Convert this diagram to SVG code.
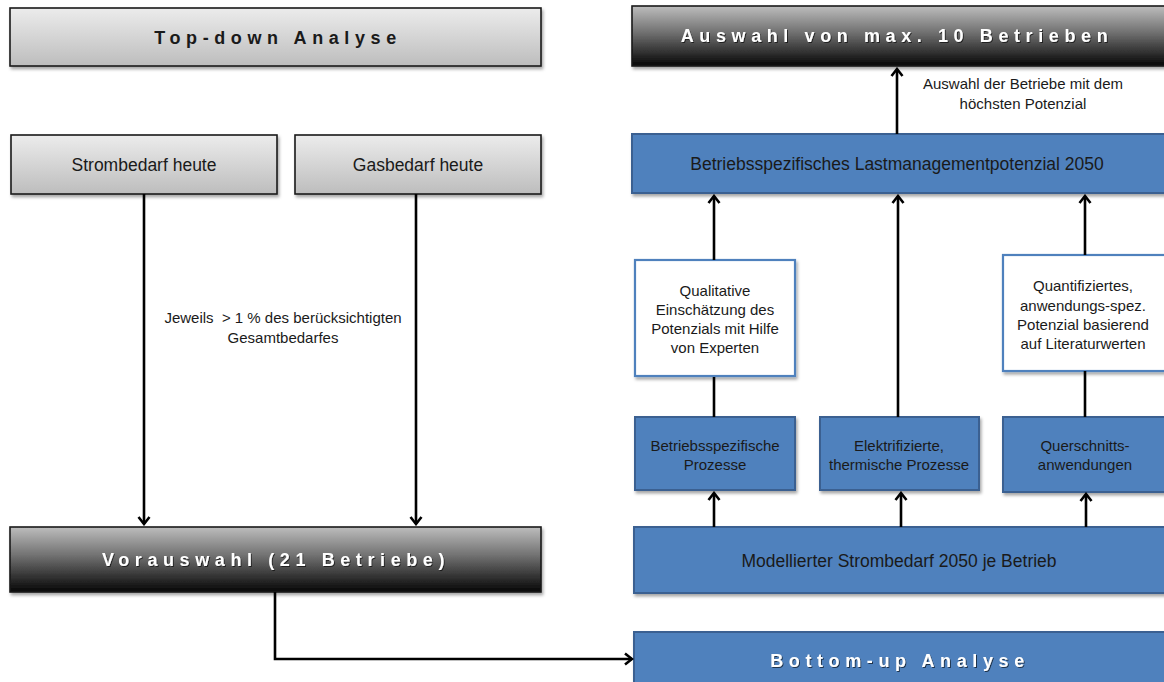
<svg xmlns="http://www.w3.org/2000/svg" width="1164" height="682" viewBox="0 0 1164 682">
  <defs>
    <linearGradient id="gLight" x1="0" y1="0" x2="0" y2="1">
      <stop offset="0" stop-color="#ececec"/>
      <stop offset="1" stop-color="#bdbdbd"/>
    </linearGradient>
    <linearGradient id="gDark" x1="0" y1="0" x2="0" y2="1">
      <stop offset="0" stop-color="#bdbdbd"/>
      <stop offset="0.45" stop-color="#6f6f6f"/>
      <stop offset="1" stop-color="#050505"/>
    </linearGradient>
    <filter id="shadow" x="-5%" y="-20%" width="110%" height="150%">
      <feDropShadow dx="1.5" dy="2.5" stdDeviation="1.5" flood-color="#000" flood-opacity="0.35"/>
    </filter>
    <filter id="tshadow" x="-5%" y="-30%" width="110%" height="160%">
      <feDropShadow dx="1" dy="1" stdDeviation="0.6" flood-color="#000" flood-opacity="0.6"/>
    </filter>
    <marker id="arrow" viewBox="-10 -8 12 16" refX="0" refY="0" markerWidth="12" markerHeight="16" markerUnits="userSpaceOnUse" orient="auto">
      <path d="M-7,-5.5 L0,0 L-7,5.5" fill="none" stroke="#000" stroke-width="2.6" stroke-linejoin="miter"/>
    </marker>
  </defs>
  <style>
    .grey { fill: url(#gLight); stroke: #1a1a1a; stroke-width: 1.6; filter: url(#shadow); }
    .dark { fill: url(#gDark); stroke: #1a1a1a; stroke-width: 1.6; filter: url(#shadow); }
    .blue { fill: #4f81bd; stroke: #3a6191; stroke-width: 2; filter: url(#shadow); }
    .white { fill: #ffffff; stroke: #4f81bd; stroke-width: 2.2; filter: url(#shadow); }
    .head { font-family: "Liberation Sans", Arial, sans-serif; font-weight: bold; font-size: 18px; letter-spacing: 5.6px; text-anchor: middle; }
    .headDark { fill: #1a1a1a; }
    .headLight { fill: #ffffff; filter: url(#tshadow); }
    .lbl { font-family: "Liberation Sans", Arial, sans-serif; font-size: 17.5px; fill: #1a1a1a; text-anchor: middle; }
    .sm { font-family: "Liberation Sans", Arial, sans-serif; font-size: 15px; fill: #1a1a1a; text-anchor: middle; }
    .conn { fill: none; stroke: #000; stroke-width: 2.6; }
  </style>

  <!-- left column: top-down -->
  <g id="topdown">
    <rect class="grey" x="10" y="8" width="531" height="58"/>
    <text class="head headDark" x="278" y="44">Top-down Analyse</text>
  </g>
  <g id="strom">
    <rect class="grey" x="11" y="135" width="266" height="59"/>
    <text class="lbl" x="144" y="170.5">Strombedarf heute</text>
  </g>
  <g id="gas">
    <rect class="grey" x="295" y="135" width="246" height="59"/>
    <text class="lbl" x="418" y="170.5">Gasbedarf heute</text>
  </g>
  <g id="vorauswahl">
    <rect class="dark" x="10" y="527" width="531" height="65"/>
    <text class="head headLight" x="276" y="566">Vorauswahl (21 Betriebe)</text>
  </g>

  <!-- right column: bottom-up -->
  <g id="auswahl">
    <rect class="dark" x="632" y="6" width="534" height="60"/>
    <text class="head headLight" x="897" y="42">Auswahl von max. 10 Betrieben</text>
  </g>
  <g id="lastmanagement">
    <rect class="blue" x="632" y="134" width="534" height="59"/>
    <text class="lbl" x="897" y="169.5">Betriebsspezifisches Lastmanagementpotenzial 2050</text>
  </g>
  <g id="qualitativ">
    <rect class="white" x="635" y="260" width="160" height="116"/>
    <text class="sm" x="715" y="296">Qualitative</text>
    <text class="sm" x="715" y="315">Einschätzung des</text>
    <text class="sm" x="715" y="334">Potenzials mit Hilfe</text>
    <text class="sm" x="715" y="353">von Experten</text>
  </g>
  <g id="quantitativ">
    <rect class="white" x="1003" y="255" width="163" height="116"/>
    <text class="sm" x="1083" y="291">Quantifiziertes,</text>
    <text class="sm" x="1083" y="311">anwendungs-spez.</text>
    <text class="sm" x="1083" y="330">Potenzial basierend</text>
    <text class="sm" x="1083" y="349">auf Literaturwerten</text>
  </g>
  <g id="prozesse">
    <rect class="blue" x="635" y="417" width="160" height="73"/>
    <text class="sm" x="715" y="451">Betriebsspezifische</text>
    <text class="sm" x="715" y="470">Prozesse</text>
  </g>
  <g id="thermisch">
    <rect class="blue" x="820" y="417" width="159" height="73"/>
    <text class="sm" x="899" y="451">Elektrifizierte,</text>
    <text class="sm" x="899" y="470">thermische Prozesse</text>
  </g>
  <g id="querschnitt">
    <rect class="blue" x="1003" y="417" width="163" height="75"/>
    <text class="sm" x="1085" y="451">Querschnitts-</text>
    <text class="sm" x="1085" y="470">anwendungen</text>
  </g>
  <g id="modell">
    <rect class="blue" x="634" y="527" width="532" height="66"/>
    <text class="lbl" x="899" y="567">Modellierter Strombedarf 2050 je Betrieb</text>
  </g>
  <g id="bottomup">
    <rect class="blue" x="634" y="632" width="532" height="60"/>
    <text class="head headLight" x="900" y="667">Bottom-up Analyse</text>
  </g>

  <!-- connectors -->
  <g id="connectors">
    <path class="conn" d="M144,194 V524" marker-end="url(#arrow)"/>
    <path class="conn" d="M416,194 V524" marker-end="url(#arrow)"/>
    <path class="conn" d="M275,592 V659 H632" marker-end="url(#arrow)"/>
    <path class="conn" d="M714,527 V493" marker-end="url(#arrow)"/>
    <path class="conn" d="M901,527 V493" marker-end="url(#arrow)"/>
    <path class="conn" d="M1086,527 V494" marker-end="url(#arrow)"/>
    <path class="conn" d="M714,417 V377"/>
    <path class="conn" d="M714,260 V196" marker-end="url(#arrow)"/>
    <path class="conn" d="M898,417 V196" marker-end="url(#arrow)"/>
    <path class="conn" d="M1085,417 V371"/>
    <path class="conn" d="M1085,255 V196" marker-end="url(#arrow)"/>
    <path class="conn" d="M897,134 V69" marker-end="url(#arrow)"/>
  </g>

  <!-- connector labels -->
  <g id="labels">
    <text class="sm" x="283" y="323">Jeweils&#160; &gt; 1 % des berücksichtigten</text>
    <text class="sm" x="283" y="343">Gesamtbedarfes</text>
    <text class="sm" x="1023" y="89">Auswahl der Betriebe mit dem</text>
    <text class="sm" x="1023" y="109">höchsten Potenzial</text>
  </g>
</svg>
